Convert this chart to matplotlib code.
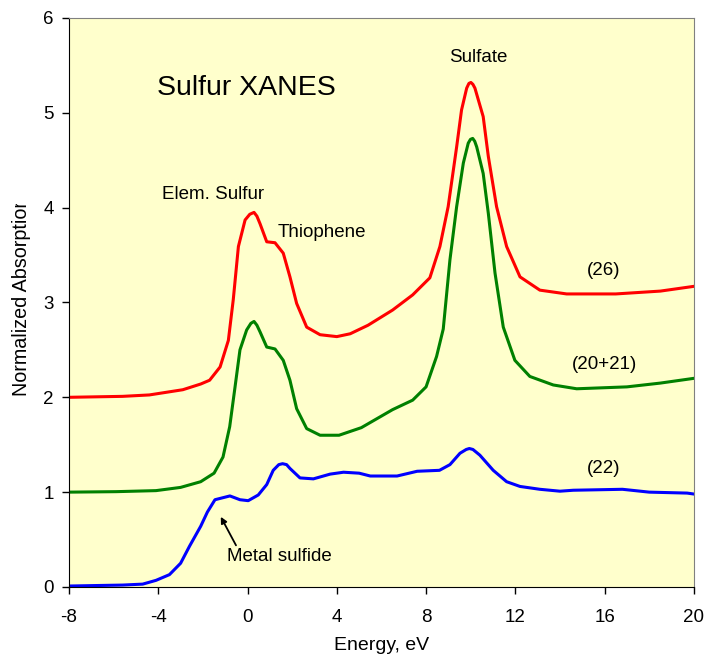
import matplotlib
matplotlib.use("Agg")
import matplotlib.pyplot as plt
from matplotlib.transforms import Bbox

plt.rcParams['font.family'] = ['Liberation Sans', 'DejaVu Sans']
plt.rcParams['axes.unicode_minus'] = False

# spectra (energy in eV, normalized absorption)
red_x = [-8, -5.6, -4.4, -2.9, -2.1, -1.7, -1.23, -0.86, -0.64, -0.41, -0.11, 0.1, 0.29, 0.42, 0.56, 0.86, 1.23, 1.6, 1.9, 2.2,
         2.65, 3.25, 4.0, 4.6, 5.4, 6.5, 7.4, 8.17, 8.62, 8.99, 9.37, 9.59, 9.82, 9.92, 10.01, 10.1, 10.19, 10.56, 10.79, 11.16,
         11.61, 12.21, 13.1, 14.3, 16.5, 18.5, 20]
red_y = [2.0, 2.01, 2.025, 2.08, 2.14, 2.18, 2.32, 2.60, 3.03, 3.59, 3.87, 3.93, 3.95, 3.91, 3.83, 3.64, 3.63, 3.52, 3.27, 2.99,
         2.74, 2.66, 2.64, 2.67, 2.76, 2.92, 3.08, 3.26, 3.59, 4.01, 4.64, 5.03, 5.26, 5.31, 5.32, 5.30, 5.26, 4.96, 4.54, 4.01,
         3.59, 3.27, 3.13, 3.09, 3.09, 3.12, 3.17]

green_x = [-8, -5.9, -4.1, -3.0, -2.1, -1.5, -1.1, -0.8, -0.56, -0.34, -0.04, 0.15, 0.29, 0.42, 0.56, 0.86, 1.23, 1.6, 1.9, 2.2,
           2.65, 3.25, 4.1, 5.1, 6.5, 7.4, 8.0, 8.47, 8.77, 9.07, 9.37, 9.67, 9.89, 9.99, 10.09, 10.18, 10.27, 10.56, 10.79, 11.09,
           11.46, 11.98, 12.65, 13.7, 14.75, 17.0, 18.5, 20]
green_y = [1.0, 1.005, 1.016, 1.05, 1.11, 1.20, 1.37, 1.69, 2.11, 2.50, 2.71, 2.78, 2.80, 2.76, 2.69, 2.53, 2.51, 2.39, 2.18, 1.88,
           1.67, 1.60, 1.60, 1.68, 1.87, 1.97, 2.11, 2.43, 2.72, 3.45, 4.01, 4.47, 4.68, 4.72, 4.73, 4.70, 4.64, 4.36, 3.94, 3.31,
           2.74, 2.39, 2.22, 2.13, 2.09, 2.11, 2.15, 2.20]

blue_x = [-8, -5.6, -4.7, -4.1, -3.5, -3.0, -2.6, -2.1, -1.8, -1.46, -0.79, -0.34, 0.03, 0.48, 0.86, 1.15, 1.4, 1.57, 1.75, 1.9,
          2.35, 2.95, 3.7, 4.3, 5.0, 5.5, 6.7, 7.6, 8.6, 9.07, 9.52, 9.8, 9.94, 10.1, 10.41, 11.01, 11.61, 12.21, 13.1, 14.0,
          14.6, 16.8, 18.0, 19.7, 20]
blue_y = [0.01, 0.02, 0.03, 0.07, 0.13, 0.25, 0.43, 0.64, 0.79, 0.92, 0.96, 0.92, 0.91, 0.97, 1.08, 1.23, 1.29, 1.30, 1.29, 1.25,
          1.15, 1.14, 1.19, 1.21, 1.20, 1.17, 1.17, 1.22, 1.23, 1.29, 1.41, 1.45, 1.46, 1.45, 1.39, 1.23, 1.11, 1.06, 1.03, 1.01,
          1.02, 1.03, 1.0, 0.99, 0.98]

x_ticks = [-8, -4, 0, 4, 8, 12, 16, 20]
y_ticks = [0, 1, 2, 3, 4, 5, 6]

fig = plt.figure(figsize=(7.08, 6.61), dpi=100)
ax = fig.add_axes([0.0975, 0.112, 0.8825, 0.8608])
ax.set_facecolor('#FFFFCC')

ax.plot(red_x, red_y, color='#FF0000', lw=2.2)
ax.plot(green_x, green_y, color='#008000', lw=2.2)
ax.plot(blue_x, blue_y, color='#0000FF', lw=2.2)

ax.set_xlim(-8, 20)
ax.set_ylim(0, 6)
ax.set_xticks(x_ticks)
ax.set_yticks(y_ticks)
ax.tick_params(direction='out', length=5, width=1, labelsize=13.5, color='black')
ax.tick_params(axis='x', pad=11)
ax.tick_params(axis='y', pad=6)
for s in ['top', 'right']:
    ax.spines[s].set_color('#808080')
for s in ['left', 'bottom']:
    ax.spines[s].set_color('black')

ax.set_xlabel('Energy, eV', fontsize=14, labelpad=8)
ylab = fig.text(0.031, 0.551, 'Normalized Absorption', rotation=90, fontsize=14.2,
                ha='center', va='center')
# the original axis title is cut off at its top
ylab.set_clip_box(Bbox.from_extents(0, 0, 708, 661 - 204))
ylab.set_clip_on(True)

ax.text(-4.06, 5.26, 'Sulfur XANES', fontsize=20.5, va='center', ha='left')
ax.text(-3.83, 4.14, 'Elem. Sulfur', fontsize=13.5, va='center', ha='left')
ax.text(1.36, 3.74, 'Thiophene', fontsize=13.5, va='center', ha='left')
ax.text(10.32, 5.58, 'Sulfate', fontsize=13.5, va='center', ha='center')
ax.text(15.97, 3.34, '(26)', fontsize=13.5, va='center', ha='center')
ax.text(16.01, 2.35, '(20+21)', fontsize=13.5, va='center', ha='center')
ax.text(15.97, 1.25, '(22)', fontsize=13.5, va='center', ha='center')
ax.annotate('Metal sulfide', xy=(-1.2, 0.74), xytext=(-0.92, 0.32), fontsize=13.5,
            va='center', ha='left',
            arrowprops=dict(arrowstyle='-|>', color='black', lw=1.3, mutation_scale=9,
                            shrinkA=0, shrinkB=0, relpos=(0.1, 1.0)))

fig.savefig('out.png', dpi=100)
